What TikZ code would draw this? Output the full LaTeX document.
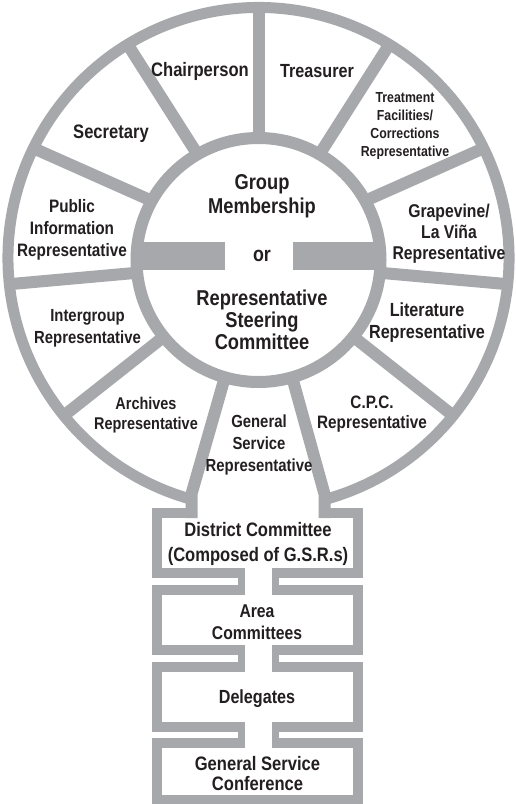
\documentclass[tikz,border=0pt]{standalone}
\usepackage{fontspec}
\setmainfont{Liberation Sans}[FakeStretch=0.85]
\usetikzlibrary{calc}
\definecolor{ringgray}{RGB}{166,168,171}
\definecolor{ink}{RGB}{35,31,32}
\tikzset{
  band/.style={draw=ringgray, line width=#1, line join=miter},
  band/.default=11,
  neckwall/.style={draw=ringgray, line width=7, line cap=rect},
  lab/.style 2 args={font={\fontsize{#1}{#2}\selectfont\bfseries}, align=center, text=ink, inner sep=0pt},
}
\begin{document}
\begin{tikzpicture}[x=1pt,y=1pt]
\useasboundingbox (0,0) rectangle (515,-804);
\fill[white] (0,0) rectangle (515,-804);
\coordinate (O) at (258.5,-260);
\coordinate (C) at (258.5,-258);
% outer ring, open at the bottom
\draw[band=11] ([shift={(-74.3:250.5)}]C) arc[start angle=-74.3, end angle=254.3, radius=250.5];
% spokes
\foreach \a/\b in {90/90, 60/58.5, 120/121.5, 29/26, 151/154, -6/-6, 186/186, -39/-39, 219/219}
  \draw[band=12] ([shift={(\a:122)}]O) -- ([shift={(\b:250.5)}]C);
% stem spokes of the G.S.R. sector
\draw[band=12] ([shift={(254:122)}]O) -- (191.5,-494) -- (191.5,-518);
\draw[band=12] ([shift={(-74:122)}]O) -- (324.5,-494) -- (324.5,-518);
% hub ring and bars
\draw[band=12] (O) circle[radius=122];
\fill[ringgray] (132,-242) rectangle (225,-270);
\fill[ringgray] (292.5,-242) rectangle (385,-270);
% boxes of the stem
\draw[band=10] (191.5,-513) -- (157,-513) -- (157,-573) -- (244.5,-573);
\draw[band=10] (324.5,-513) -- (358,-513) -- (358,-573) -- (271.5,-573);
\draw[band=10] (244.5,-590) -- (157,-590) -- (157,-650) -- (244.5,-650);
\draw[band=10] (271.5,-590) -- (358,-590) -- (358,-650) -- (271.5,-650);
\draw[band=10] (244.5,-667) -- (157,-667) -- (157,-727) -- (244.5,-727);
\draw[band=10] (271.5,-667) -- (358,-667) -- (358,-727) -- (271.5,-727);
\draw[band=10] (244.5,-743) -- (157,-743) -- (157,-800) -- (358,-800) -- (358,-743) -- (271.5,-743);
\foreach \ya/\yb in {573/590, 650/667, 727/743}{
  \draw[neckwall] (241,-\ya) -- (241,-\yb);
  \draw[neckwall] (275,-\ya) -- (275,-\yb);
}
% texts
\node[lab={19.5}{23}] (chair) at (200,-71) {Chairperson};
\node[lab={19}{23}] (treas) at (317,-71) {Treasurer};
\node[lab={14.5}{18.3}] (treat) at (405,-126) {Treatment\\Facilities/\\Corrections\\Representative};
\node[lab={19.5}{23}] (secr) at (111,-134) {Secretary};
\node[lab={18}{21.7}] (pubinfo) at (72,-230) {Public\\Information\\Representative};
\node[lab={18.5}{21}] (grape) at (449,-234) {Grapevine/\\La Viña\\Representative};
\node[lab={17.5}{22}] (inter) at (87.5,-328) {Intergroup\\Representative};
\node[lab={19}{22}] (lit) at (427,-323) {Literature\\Representative};
\node[lab={17}{20}] (arch) at (146,-415) {Archives\\Representative};
\node[lab={18}{20}] (cpc) at (372,-414) {C.P.C.\\Representative};
\node[lab={17.5}{21.7}] (gsr) at (259,-445) {General\\Service\\Representative};
\node[lab={21.5}{23.5}] (group) at (262,-196) {Group\\Membership};
\node[lab={21}{23}] (or) at (262,-256) {or};
\node[lab={21.5}{22}] (steer) at (262,-320) {Representative\\Steering\\Committee};
\node[lab={19.5}{25}] (district) at (258,-544) {District Committee\\(Composed of G.S.R.s)};
\node[lab={18.5}{22.5}] (area) at (257,-622) {Area\\Committees};
\node[lab={19}{23}] (deleg) at (257,-699) {Delegates};
\node[lab={19.5}{20}] (gsc) at (257.5,-774) {General Service\\Conference};
\end{tikzpicture}
\end{document}
